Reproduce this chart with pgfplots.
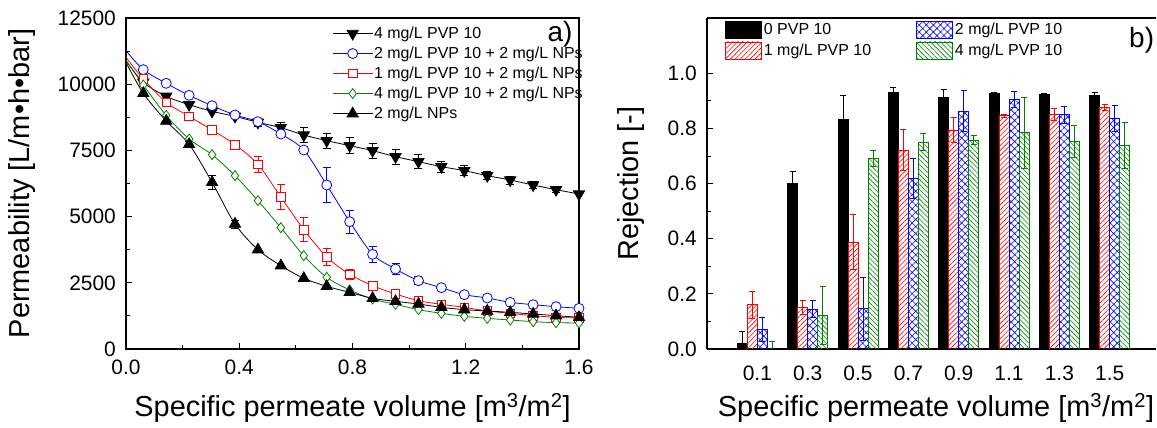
\documentclass[border=0pt]{standalone}
\usepackage{fontspec}
\setmainfont{Liberation Sans}
\usepackage{pgfplots}
\pgfplotsset{compat=1.18}
\usetikzlibrary{patterns.meta}

\definecolor{ored}{RGB}{255,0,0}
\definecolor{oblue}{RGB}{0,0,255}
\definecolor{ogreen}{RGB}{0,128,0}

\pgfplotsset{
  common/.style={
    scale only axis, height=331bp, anchor=south west,
    axis line style={line width=1.2bp},
    tick align=inside, xtick pos=left, ytick pos=left,
    major tick length=6bp, minor tick length=3.5bp,
    every tick/.style={black, line width=0.8bp},
    tick label style={font=\fontsize{21}{24}\selectfont},
    label style={font=\fontsize{29}{32}\selectfont},
    /pgf/number format/assume math mode=true,
    scaled y ticks=false, scaled x ticks=false,
    xlabel={Specific permeate volume [m\textsuperscript{3}/m\textsuperscript{2}]},
    yticklabel style={inner sep=0pt, xshift=-10bp},
    xticklabel style={inner sep=0pt, yshift=-11bp},
  },
  curve/.style={smooth, line width=0.8bp, mark phase=2, mark repeat=1},
  errs/.style={only marks, mark=none, forget plot, color=#1,
    error bars/.cd, y dir=both, y explicit,
    error bar style={line width=0.8bp, color=#1},
    error mark options={rotate=90, mark size=4bp, line width=0.8bp, color=#1}},
  berrs/.style={error bars/.cd, y dir=both, y explicit,
    error bar style={line width=0.7bp, color=#1},
    error mark options={rotate=90, mark size=3bp, line width=0.7bp, color=#1}},
}

\begin{document}
\begin{tikzpicture}
\path[use as bounding box] (0bp,0bp) rectangle (1157bp,428bp);

% ---------- a) permeability ----------
\begin{axis}[common, at={(126bp,79bp)}, width=453bp,
  xmin=0, xmax=1.6, ymin=0, ymax=12500,
  xtick={0,0.4,0.8,1.2,1.6}, minor x tick num=1,
  ytick={0,2500,5000,7500,10000,12500}, minor y tick num=1,
  yticklabel style={/pgf/number format/1000 sep={}},
  xticklabel style={/pgf/number format/.cd, fixed, fixed zerofill, precision=1},
  xlabel style={at={(axis description cs:0.5,-0.178)}, anchor=center},
  ylabel={Permeability [L/m•h•bar]},
  ylabel style={at={(axis description cs:-0.2296,0.5)}, anchor=center},
  legend cell align=left,
  legend style={draw=none, fill=none, at={(axis description cs:0.456,0.978)},
    anchor=north west, font=\fontsize{16}{18}\selectfont, row sep=4bp,
    inner sep=0pt, nodes={inner sep=1.5bp}},
  legend image code/.code={\draw[#1, mark repeat=2, mark phase=2]
    plot coordinates {(0bp,0bp)(19.5bp,0bp)(39bp,0bp)};},
]
% error bars
\addplot[errs=black] coordinates {
 (0.466,8560) +- (0,150) (0.547,8358) +- (0,200) (0.628,8081) +- (0,280)
 (0.709,7867) +- (0,280) (0.790,7679) +- (0,300) (0.871,7490) +- (0,280)
 (0.952,7263) +- (0,290) (1.033,7074) +- (0,260) (1.114,6886) +- (0,210)
 (1.195,6735) +- (0,190) (1.276,6546) +- (0,150) (1.357,6382) +- (0,150)
 (1.438,6193) +- (0,120) (1.519,6017) +- (0,100)};
\addplot[errs=oblue] coordinates {
 (0.547,8119) +- (0,100) (0.628,7515) +- (0,120) (0.709,6193) +- (0,650)
 (0.790,4809) +- (0,430) (0.871,3575) +- (0,300) (0.952,3021) +- (0,200)
 (1.033,2580) +- (0,150) (1.114,2316) +- (0,80)};
\addplot[errs=ored] coordinates {
 (0.466,6974) +- (0,300) (0.547,5740) +- (0,480) (0.628,4506) +- (0,460)
 (0.709,3474) +- (0,330) (0.790,2820) +- (0,200) (0.871,2392) +- (0,120)
 (0.952,2077) +- (0,80)};
\addplot[errs=black] coordinates {
 (0.223,7729) +- (0,100) (0.304,6294) +- (0,250) (0.385,4720) +- (0,150)};

\addplot[curve, black, mark=triangle*, mark size=6.5bp, mark options={rotate=180, fill=black}]
 coordinates {(0,10890) (0.061,10070) (0.142,9540) (0.223,9227) (0.304,8975)
 (0.385,8786) (0.466,8560) (0.547,8358) (0.628,8081) (0.709,7867) (0.790,7679)
 (0.871,7490) (0.952,7263) (1.033,7074) (1.114,6886) (1.195,6735) (1.276,6546)
 (1.357,6382) (1.438,6193) (1.519,6017) (1.600,5853)};
\addlegendentry{4 mg/L PVP 10}
\addplot[curve, oblue, mark=*, mark size=5bp, mark options={fill=white}]
 coordinates {(0,11266) (0.061,10549) (0.142,10033) (0.223,9580) (0.304,9189)
 (0.385,8837) (0.466,8585) (0.547,8119) (0.628,7515) (0.709,6193) (0.790,4809)
 (0.871,3575) (0.952,3021) (1.033,2580) (1.114,2316) (1.195,2052) (1.276,1926)
 (1.357,1762) (1.438,1674) (1.519,1599) (1.600,1536)};
\addlegendentry{2 mg/L PVP 10 + 2 mg/L NPs}
\addplot[curve, ored, mark=square*, mark size=4.3bp, mark options={fill=white}]
 coordinates {(0,11014) (0.061,10196) (0.142,9315) (0.223,8786) (0.304,8270)
 (0.385,7717) (0.466,6974) (0.547,5740) (0.628,4506) (0.709,3474) (0.790,2820)
 (0.871,2392) (0.952,2077) (1.033,1825) (1.114,1687) (1.195,1573) (1.276,1435)
 (1.357,1347) (1.438,1259) (1.519,1196) (1.600,1171)};
\addlegendentry{1 mg/L PVP 10 + 2 mg/L NPs}
\addplot[curve, ogreen, mark=diamond*, mark size=5bp, mark options={fill=white}]
 coordinates {(0,10900) (0.061,9970) (0.142,8824) (0.223,7930) (0.304,7339)
 (0.385,6546) (0.466,5602) (0.547,4582) (0.628,3525) (0.709,2706) (0.790,2228)
 (0.871,1888) (0.952,1687) (1.033,1485) (1.114,1347) (1.195,1234) (1.276,1158)
 (1.357,1095) (1.438,1032) (1.519,994) (1.600,982)};
\addlegendentry{4 mg/L PVP 10 + 2 mg/L NPs}
\addplot[curve, black, mark=triangle*, mark size=6.5bp, mark options={fill=black}]
 coordinates {(0,10826) (0.061,9655) (0.142,8610) (0.223,7729) (0.304,6294)
 (0.385,4720) (0.466,3751) (0.547,3147) (0.628,2669) (0.709,2367) (0.790,2140)
 (0.871,1913) (0.952,1800) (1.033,1699) (1.114,1573) (1.195,1485) (1.276,1435)
 (1.357,1385) (1.438,1322) (1.519,1259) (1.600,1196)};
\addlegendentry{2 mg/L NPs}
\node[inner sep=0pt, font=\fontsize{28}{30}\selectfont] at (rel axis cs:0.958,0.95) {a)};
\end{axis}

% ---------- b) rejection ----------
\begin{axis}[common, at={(707bp,79bp)}, width=449bp,
  axis lines*=left,
  xmin=-1, xmax=7.92, ymin=0, ymax=1.2,
  ybar=0pt, bar width=10bp,
  xtick={0,1,2,3,4,5,6,7},
  xticklabels={0.1,0.3,0.5,0.7,0.9,1.1,1.3,1.5},
  major x tick style={draw=none},
  ytick={0,0.2,0.4,0.6,0.8,1.0}, minor y tick num=1,
  yticklabel style={/pgf/number format/.cd, fixed, fixed zerofill, precision=1},
  xlabel style={at={(axis description cs:0.51,-0.178)}, anchor=center},
  ylabel={Rejection [-]},
  ylabel style={at={(axis description cs:-0.17,0.5)}, anchor=center},
  legend columns=2, transpose legend, legend cell align=left,
  legend style={draw=none, fill=none, at={(axis description cs:0.040,0.9924)},
    anchor=north west, font=\fontsize{16}{18}\selectfont, row sep=2.4bp,
    inner sep=0pt, nodes={inner sep=2bp},
    /tikz/column 2/.style={column sep=43bp}},
  legend image code/.code={\draw[#1] (0bp,-8.8bp) rectangle (36bp,8.8bp);},
]
\addplot[draw=black, fill=black, line width=0.8bp, berrs=black] coordinates {
 (0,0.020) +- (0,0.043) (1,0.600) +- (0,0.043) (2,0.831) +- (0,0.090)
 (3,0.930) +- (0,0.017) (4,0.911) +- (0,0.031) (5,0.925) +- (0,0.005)
 (6,0.924) +- (0,0.002) (7,0.920) +- (0,0.009)};
\addlegendentry{0 PVP 10}
\addplot[draw=ored, color=ored, line width=0.8bp,
  pattern={Lines[angle=45,distance=3.5bp,line width=0.6bp]}, pattern color=ored,
  berrs=ored] coordinates {
 (0,0.160) +- (0,0.050) (1,0.151) +- (0,0.024) (2,0.387) +- (0,0.100)
 (3,0.721) +- (0,0.075) (4,0.794) +- (0,0.046) (5,0.846) +- (0,0.005)
 (6,0.850) +- (0,0.021) (7,0.876) +- (0,0.010)};
\addlegendentry{1 mg/L PVP 10}
\addplot[draw=oblue, color=oblue, line width=0.8bp,
  pattern={Hatch[angle=45,distance=5bp,line width=0.6bp]}, pattern color=oblue,
  berrs=oblue] coordinates {
 (0,0.071) +- (0,0.044) (1,0.145) +- (0,0.031) (2,0.146) +- (0,0.113)
 (3,0.618) +- (0,0.072) (4,0.862) +- (0,0.074) (5,0.905) +- (0,0.029)
 (6,0.849) +- (0,0.031) (7,0.837) +- (0,0.048)};
\addlegendentry{2 mg/L PVP 10}
\addplot[draw=ogreen, color=ogreen, line width=0.8bp,
  pattern={Lines[angle=-45,distance=3.5bp,line width=0.6bp]}, pattern color=ogreen,
  berrs=ogreen] coordinates {
 (0,0.000) +- (0,0.027) (1,0.122) +- (0,0.106) (2,0.691) +- (0,0.030)
 (3,0.750) +- (0,0.031) (4,0.758) +- (0,0.016) (5,0.784) +- (0,0.129)
 (6,0.752) +- (0,0.057) (7,0.737) +- (0,0.083)};
\addlegendentry{4 mg/L PVP 10}
\draw[line width=1.2bp] (rel axis cs:0,1) -- (rel axis cs:1.01,1);
\node[inner sep=0pt, font=\fontsize{28}{30}\selectfont] at (rel axis cs:0.968,0.934) {b)};
\end{axis}
\end{tikzpicture}
\end{document}
